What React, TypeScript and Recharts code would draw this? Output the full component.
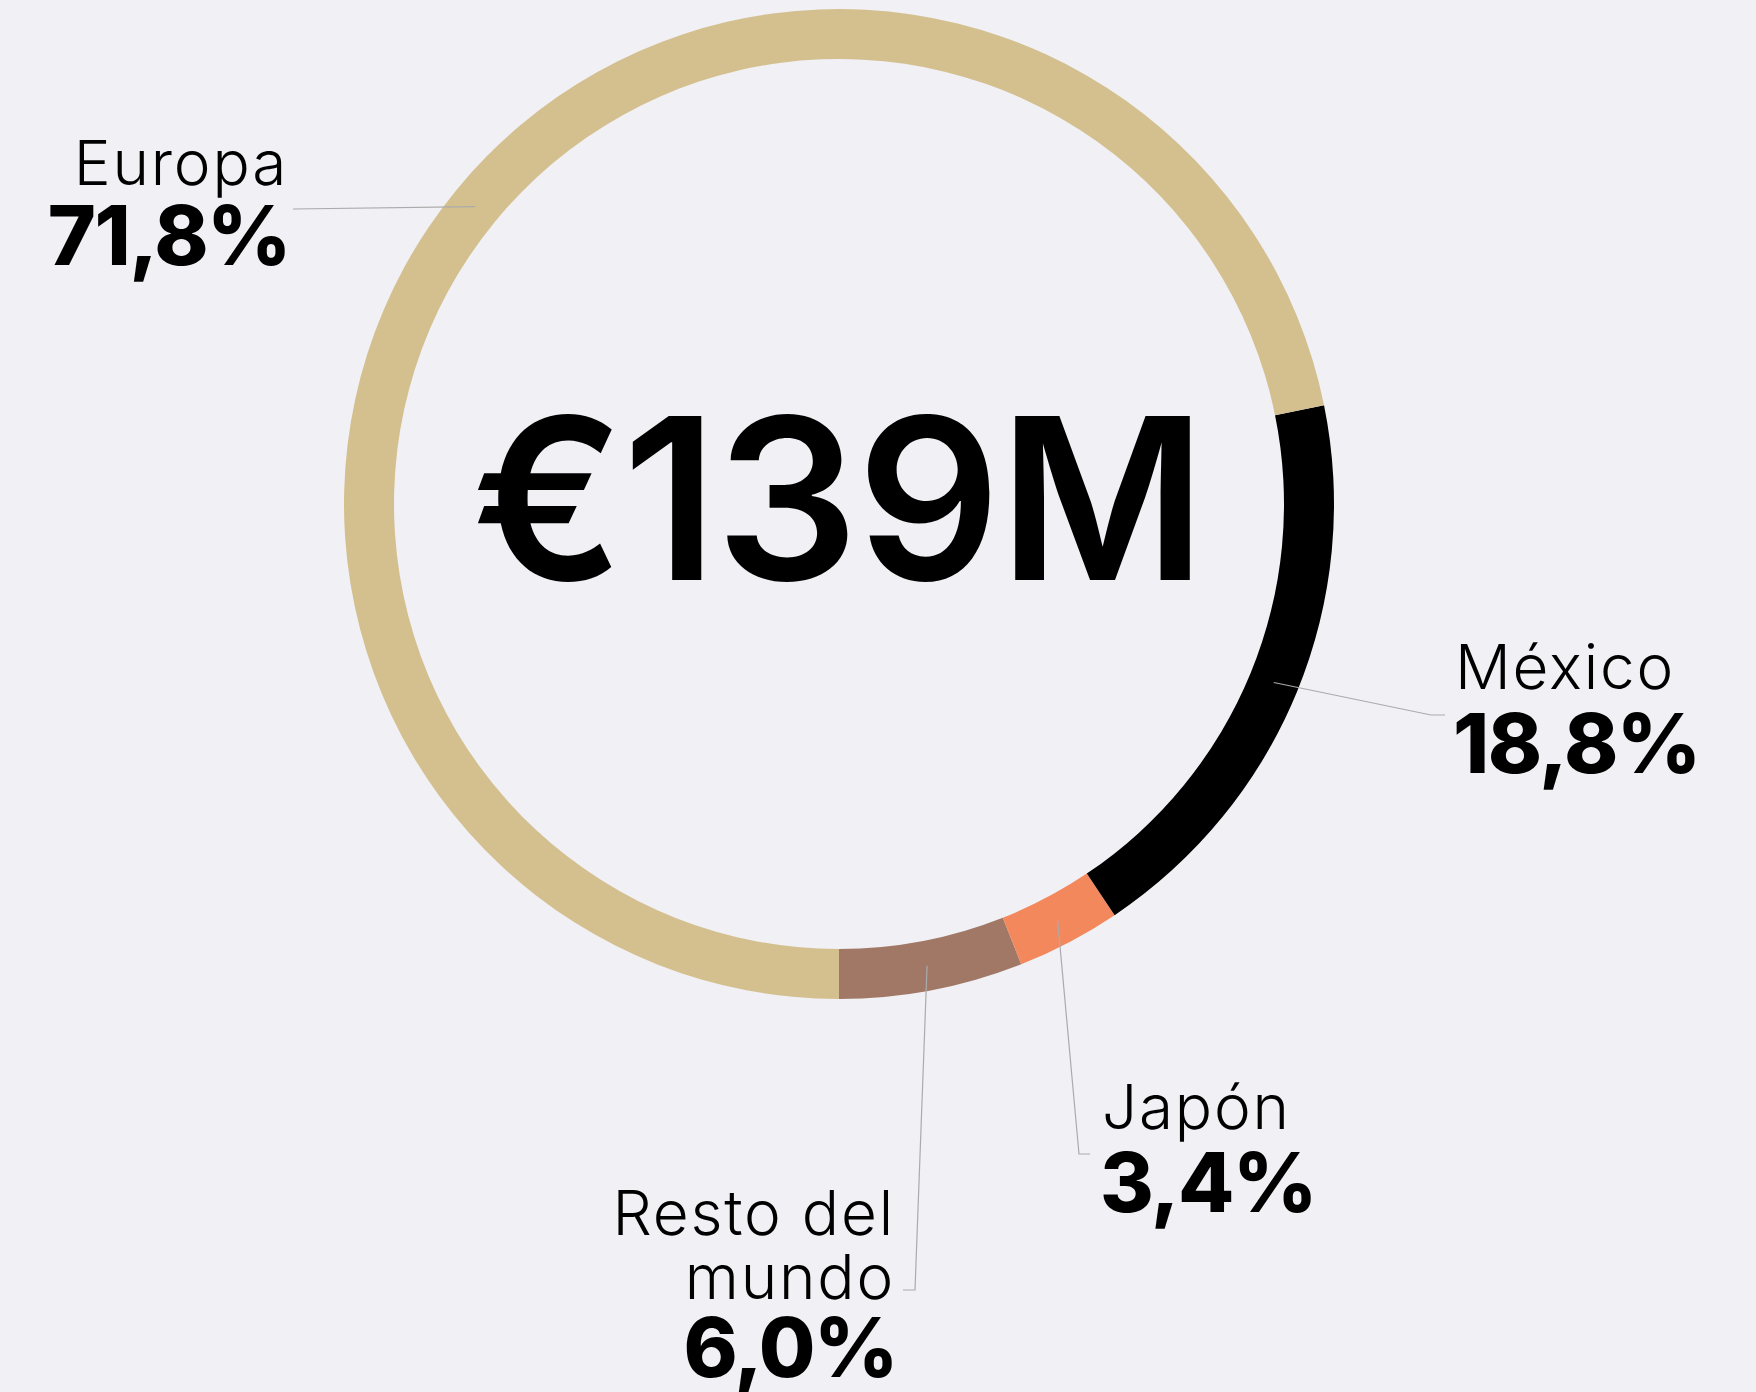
import { PieChart, Pie, Cell, Label } from 'recharts';

const regions = ['Resto del mundo', 'Japón', 'México', 'Europa'];
const shares = [6.0, 3.4, 18.8, 71.8];
const colors = ['#a17866', '#f3885c', '#000000', '#d4c08f'];
const total = '€139M';

// where each callout sits (leader elbow/end and text block)
const callouts: Record<string, { pts: [number, number][]; x: number; anchor: 'start' | 'end'; lines: string[]; nameY: number; valueY: number }> = {
  Europa: { pts: [[293, 209]], x: 284, anchor: 'end', lines: ['Europa'], nameY: 185, valueY: 265 },
  'México': { pts: [[1431, 715], [1445, 715]], x: 1455, anchor: 'start', lines: ['México'], nameY: 689, valueY: 773 },
  'Japón': { pts: [[1079, 1154], [1090, 1154]], x: 1102, anchor: 'start', lines: ['Japón'], nameY: 1129, valueY: 1212 },
  'Resto del mundo': { pts: [[915, 1290], [903, 1290]], x: 891, anchor: 'end', lines: ['Resto del', 'mundo'], nameY: 1235, valueY: 1377 },
};

const data = regions.map((name, i) => ({ name, value: shares[i] }));
const FONT = 'Inter, "Noto Sans", sans-serif';
const RAD = Math.PI / 180;

function renderCallout(props: any) {
  const { cx, cy, midAngle, innerRadius, outerRadius, name, value } = props;
  const c = callouts[name];
  if (!c) return null;
  const r = (innerRadius + outerRadius) / 2;
  const sx = cx + r * Math.cos(-midAngle * RAD);
  const sy = cy + r * Math.sin(-midAngle * RAD);
  const pts = [[sx, sy], ...c.pts].map(p => p.join(',')).join(' ');
  const end = c.anchor === 'end';
  return (
    <g>
      <polyline points={pts} fill="none" stroke="#ababab" strokeWidth={1.2} />
      {c.lines.map((ln, k) => (
        <text key={k} x={c.x + (end ? 4 : 0)} y={c.nameY + k * 64} textAnchor={c.anchor} fontFamily={FONT} fontSize={62} fontWeight={340} letterSpacing={1.8} fill="#000">
          {ln}
        </text>
      ))}
      <text x={c.x + (end ? 6 : -2)} y={c.valueY} textAnchor={c.anchor} fontFamily={FONT} fontSize={82} fontWeight={800} letterSpacing={-1.5} fill="#000">
        {value.toFixed(1).replace('.', ',') + '%'}
      </text>
    </g>
  );
}

export default function App() {
  return (
    <div style={{ position: 'absolute', left: 0, top: 0, width: 1756, height: 1392, background: '#f0f0f5', overflow: 'hidden' }}>
      <PieChart width={1756} height={1392} margin={{ top: 0, right: 0, bottom: 0, left: 0 }}>
        <Pie
          data={data}
          dataKey="value"
          nameKey="name"
          cx={839}
          cy={504}
          innerRadius={445}
          outerRadius={495}
          startAngle={-90}
          endAngle={270}
          stroke="none"
          labelLine={false}
          label={renderCallout}
          isAnimationActive={false}
        >
          {data.map((d, i) => (
            <Cell key={d.name} fill={colors[i]} />
          ))}
          <Label
            position="center"
            content={(p: any) => {
              const vb = p.viewBox || {};
              return (
                <text x={(vb.cx ?? 839) - 1} y={(vb.cy ?? 504) + 76} textAnchor="middle" fontFamily={FONT} fontSize={225} fontWeight={560} fill="#000" letterSpacing={-2}>
                  {total}
                </text>
              );
            }}
          />
        </Pie>
      </PieChart>
    </div>
  );
}
